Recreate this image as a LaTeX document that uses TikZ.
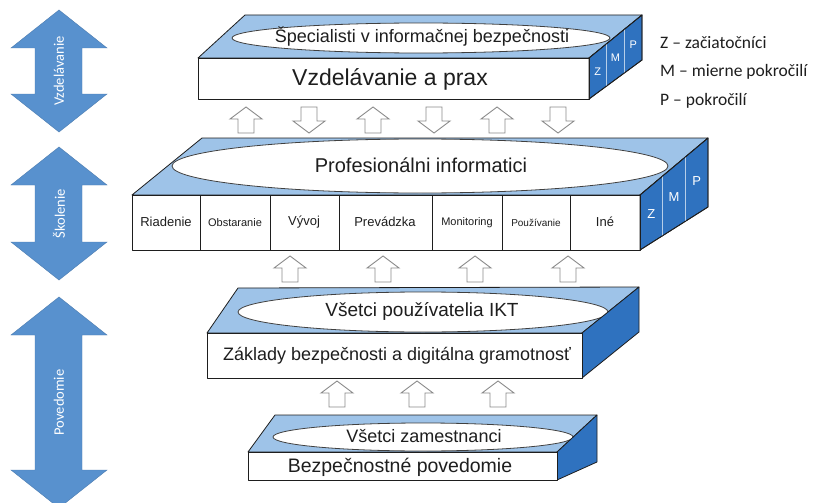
\documentclass[tikz,border=0pt]{standalone}
\usepackage{fontspec}
\setmainfont{Liberation Sans}
\newfontfamily\legendfont{Carlito}
\usetikzlibrary{calc}
\definecolor{SideBlue}{HTML}{2F72BF}
\definecolor{TopBlue}{HTML}{9EC3E8}
\definecolor{ArrBlue}{HTML}{5891CE}
\definecolor{HollowGrey}{HTML}{8A8A8A}
\definecolor{Ink}{HTML}{1E1E1E}

\tikzset{
  face/.style={draw=Ink,line width=0.8pt,line join=round},
  topface/.style={face,fill=TopBlue},
  sideface/.style={face,fill=SideBlue},
  frontface/.style={face,fill=white},
  oval/.style={draw=Ink!85,line width=0.8pt,fill=white},
  strip/.style={draw=white!65!SideBlue,line width=0.7pt},
  zmp/.style={text=white,font=\fontsize{#1}{#1}\selectfont,inner sep=0pt},
  hollow/.style={draw=HollowGrey,line width=0.9pt,fill=white,line join=miter},
  bigarr/.style={fill=ArrBlue,draw=ArrBlue!85!black,line width=0.4pt},
  sidelbl/.style={text=white,rotate=90,font=\legendfont\fontsize{14.5}{16}\selectfont,inner sep=0pt},
  big/.style={text=Ink,inner sep=0pt,font=\fontsize{#1}{#1}\selectfont},
  cell/.style={text=Ink,inner sep=0pt,font=\fontsize{#1}{#1}\selectfont},
  legend/.style={anchor=west,text=Ink,inner sep=0pt,font=\legendfont\fontsize{17.5}{20}\selectfont},
  pics/uparr/.style={code={
    \draw[hollow] (0,-13) -- (16,-1) -- (8,-1) -- (8,13) -- (-8,13) -- (-8,-1) -- (-16,-1) -- cycle;
  }}
}

\begin{document}
\begin{tikzpicture}[x=1pt,y=-1pt]
  \useasboundingbox (0,0) rectangle (814,503);

  % left double arrows
  \begin{scope}
    \clip (0,0) rectangle (814,503);
    \foreach \top/\bot/\txt [count=\i] in {10/132/Vzdelávanie,147/280/Školenie,297/508/Povedomie} {
      \filldraw[bigarr] (59,\top) -- (107,\top+38) -- (82,\top+38) -- (82,\bot-38) -- (107,\bot-38)
        -- (59,\bot) -- (11,\bot-38) -- (35,\bot-38) -- (35,\top+38) -- (11,\top+38) -- cycle;
      \node[sidelbl] (lvl\i) at (59,{(\top+\bot)/2}) {\txt};
    }
  \end{scope}

  % top layer
  \coordinate (fr1) at (589,58);  \coordinate (br1) at (589,99);
  \coordinate (bk1) at (642,15);  \coordinate (bb1) at (642,60);
  \filldraw[topface] (198,58) -- (245,15) -- (bk1) -- (fr1) -- cycle;
  \filldraw[oval] (421,38) ellipse [x radius=189,y radius=15];
  \filldraw[sideface] (fr1) -- (bk1) -- (bb1) -- (br1) -- cycle;
  \filldraw[frontface] (198,58) rectangle (br1);
  \node[big=18] (spec) at (422,37) {Špecialisti v informačnej bezpečnosti};
  \node[big=23] (prax) at (390,79) {Vzdelávanie a prax};
  \foreach \t in {0.3333,0.6667}
    \draw[strip] ($(fr1)!\t!(bk1)$) -- ($(br1)!\t!(bb1)$);
  \draw[face] (fr1) -- (bk1) -- (bb1) -- (br1) -- cycle;
  \coordinate (m1) at ($(fr1)!0.5!(br1)$); \coordinate (n1) at ($(bk1)!0.5!(bb1)$);
  \foreach \t/\l in {0.1667/Z,0.5/M,0.8333/P}
    \node[zmp=11] (s1\l) at ($(m1)!\t!(n1)$) {\l};

  % legend
  \node[legend] (lz) at (660,43) {Z – začiatočníci};
  \node[legend] (lm) at (660,72) {M – mierne pokročilí};
  \node[legend] (lp) at (660,101) {P – pokročilí};

  % arrows between top and middle layer
  \foreach \x in {246,373,497} \pic at (\x,120) {uparr};
  \foreach \x in {309,434,558} \pic[rotate=180] at (\x,120) {uparr};

  % middle layer
  \coordinate (fr2) at (640,195); \coordinate (br2) at (640,250);
  \coordinate (bk2) at (708,138); \coordinate (bb2) at (708,207);
  \filldraw[topface] (132,195) -- (202,138) -- (bk2) -- (fr2) -- cycle;
  \filldraw[oval] (420,166) ellipse [x radius=248,y radius=27];
  \filldraw[sideface] (fr2) -- (bk2) -- (bb2) -- (br2) -- cycle;
  \filldraw[frontface] (132,195) rectangle (br2);
  \node[big=20] (prof) at (421,165) {Profesionálni informatici};
  \foreach \x in {200,270,339,432,502,570}
    \draw[face] (\x,195) -- (\x,250);
  \node[cell=13] (cell1) at (166,222) {Riadenie};
  \node[cell=11] (cell2) at (235,223) {Obstaranie};
  \node[cell=13] (cell3) at (304,222) {Vývoj};
  \node[cell=13] (cell4) at (385,222) {Prevádzka};
  \node[cell=11] (cell5) at (467,223) {Monitoring};
  \node[cell=10] (cell6) at (536,223) {Používanie};
  \node[cell=13] (cell7) at (605,222) {Iné};
  \foreach \t in {0.3333,0.6667}
    \draw[strip] ($(fr2)!\t!(bk2)$) -- ($(br2)!\t!(bb2)$);
  \draw[face] (fr2) -- (bk2) -- (bb2) -- (br2) -- cycle;
  \coordinate (m2) at ($(fr2)!0.5!(br2)$); \coordinate (n2) at ($(bk2)!0.5!(bb2)$);
  \foreach \t/\l in {0.1667/Z,0.5/M,0.8333/P}
    \node[zmp=13] (s2\l) at ($(m2)!\t!(n2)$) {\l};

  % arrows between middle and ICT layer
  \foreach \x in {290,383,475,568} \pic at (\x,269) {uparr};

  % ICT users layer
  \filldraw[topface] (207,333) -- (238,288) -- (639,287) -- (582,333) -- cycle;
  \filldraw[oval] (423,312) ellipse [x radius=185,y radius=20];
  \filldraw[sideface] (582,333) -- (639,287) -- (639,332) -- (582,378) -- cycle;
  \filldraw[frontface] (207,333) rectangle (582,378);
  \node[big=19] (ikt) at (422,311) {Všetci používatelia IKT};
  \node[big=18] (zakl) at (397,356) {Základy bezpečnosti a digitálna gramotnosť};

  % arrows between ICT layer and employees layer
  \foreach \x in {337,417,498} \pic at (\x,394) {uparr};

  % employees layer
  \filldraw[topface] (248,452) -- (275,415) -- (597,415) -- (557,452) -- cycle;
  \filldraw[oval] (423,437) ellipse [x radius=150,y radius=14];
  \filldraw[sideface] (557,452) -- (597,415) -- (597,462) -- (557,480) -- cycle;
  \filldraw[frontface] (248,452) rectangle (557,480);
  \node[big=18] (zam) at (424,436) {Všetci zamestnanci};
  \node[big=19.5] (pov) at (400,467) {Bezpečnostné povedomie};
\end{tikzpicture}
\end{document}
